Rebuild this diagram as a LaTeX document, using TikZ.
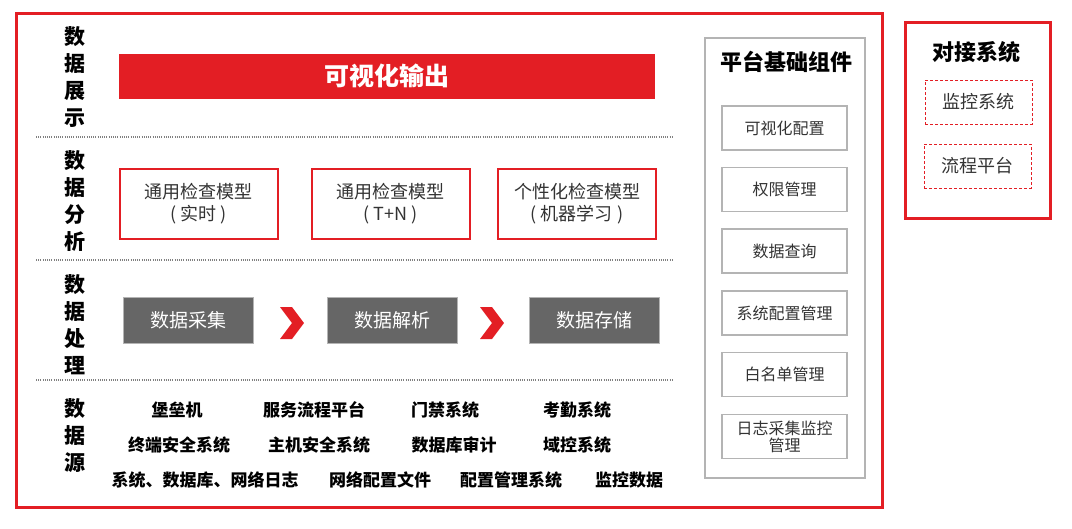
\documentclass[tikz,border=0pt]{standalone}
\usepackage{fontspec}
\setmainfont{Noto Sans CJK SC}
\definecolor{cred}{HTML}{E31E24}
\definecolor{cgray}{HTML}{666666}
\definecolor{lgray}{HTML}{B4B4B4}
\definecolor{tgray}{HTML}{333333}
\begin{document}
\begin{tikzpicture}[x=1pt,y=-1pt,
  rowlabel/.style={font=\fontsize{21}{27}\selectfont\bfseries, align=center, inner sep=0pt},
  redbar/.style={fill=cred, draw=none, minimum width=536pt, minimum height=45pt, font=\fontsize{25}{28}\selectfont\bfseries, text=white},
  anabox/.style={draw=cred, line width=2pt, fill=white, minimum width=158pt, minimum height=70pt, align=center, font=\fontsize{18}{22}\selectfont, text=tgray},
  procbox/.style={fill=cgray, draw=lgray, line width=0.6pt, minimum width=130pt, minimum height=46pt, font=\fontsize{19}{22}\selectfont, text=white},
  srctext/.style={font=\fontsize{17}{20}\selectfont\bfseries, inner sep=0pt},
  compbox/.style={draw=lgray, line width=1.2pt, minimum width=125pt, minimum height=44pt, align=center, font=\fontsize{16}{18}\selectfont, text=tgray},
  dashbox/.style={draw=cred, dash pattern=on 3pt off 2pt, line width=1pt, minimum width=107pt, minimum height=44pt, font=\fontsize{18}{20}\selectfont, text=tgray},
  sep/.style={draw=gray, dash pattern=on 1pt off 1.2pt, line width=1.2pt},
  chev/.style={fill=cred, draw=none}
]
\useasboundingbox (0,0) rectangle (1072,528);
% outer frames
\draw[cred, line width=3pt] (16,13) rectangle (882,507);
\draw[cred, line width=3pt] (905,22) rectangle (1050,218);
\draw[lgray, line width=1.2pt] (705,38) rectangle (865,478);
% separators
\coordinate (s1a) at (36,137); \coordinate (s1b) at (674,137);
\coordinate (s2a) at (36,260); \coordinate (s2b) at (674,260);
\coordinate (s3a) at (36,380); \coordinate (s3b) at (674,380);
\draw[sep] (s1a) -- (s1b);
\draw[sep] (s2a) -- (s2b);
\draw[sep] (s3a) -- (s3b);
% row labels
\node[rowlabel] (l1) at (75,77) {数\\据\\展\\示};
\node[rowlabel] (l2) at (75,201) {数\\据\\分\\析};
\node[rowlabel] (l3) at (75,325) {数\\据\\处\\理};
\node[rowlabel] (l4) at (75,436) {数\\据\\源};
% display
\node[redbar] (vis) at (387,76) {可视化输出};
% analysis
\node[anabox] (a1) at (198.5,203.5) {通用检查模型\\( 实时 )};
\node[anabox] (a2) at (390.5,203.5) {通用检查模型\\( T+N )};
\node[anabox] (a3) at (577,203.5) {个性化检查模型\\( 机器学习 )};
% processing
\node[procbox] (p1) at (188,320) {数据采集};
\node[procbox] (p2) at (392,320) {数据解析};
\node[procbox] (p3) at (594,320) {数据存储};
\fill[chev] (280,307) -- (292,307) -- (304,323) -- (292,339) -- (280,339) -- (292,323) -- cycle;
\fill[chev] (480,307) -- (492,307) -- (504,323) -- (492,339) -- (480,339) -- (492,323) -- cycle;
% sources
\node[srctext] (d1) at (177,410) {堡垒机};
\node[srctext] (d2) at (314,410) {服务流程平台};
\node[srctext] (d3) at (445,410) {门禁系统};
\node[srctext] (d4) at (577,410) {考勤系统};
\node[srctext] (d5) at (179,445) {终端安全系统};
\node[srctext] (d6) at (319,445) {主机安全系统};
\node[srctext] (d7) at (454,445) {数据库审计};
\node[srctext] (d8) at (577,445) {域控系统};
\node[srctext] (d9) at (205,480) {系统、数据库、网络日志};
\node[srctext] (d10) at (380,480) {网络配置文件};
\node[srctext] (d11) at (511,480) {配置管理系统};
\node[srctext] (d12) at (629,480) {监控数据};
% platform components
\node[font=\fontsize{22}{24}\selectfont\bfseries] (pt) at (786,62) {平台基础组件};
\node[compbox] (c1) at (784.5,128) {可视化配置};
\node[compbox] (c2) at (784.5,189.5) {权限管理};
\node[compbox] (c3) at (784.5,251) {数据查询};
\node[compbox] (c4) at (784.5,313) {系统配置管理};
\node[compbox] (c5) at (784.5,374.5) {白名单管理};
\node[compbox, font=\fontsize{16}{17}\selectfont] (c6) at (784.5,436.5) {日志采集监控\\管理};
% interfacing systems
\node[font=\fontsize{22}{24}\selectfont\bfseries] (jt) at (976,52) {对接系统};
\node[dashbox] (j1) at (978.5,102) {监控系统};
\node[dashbox] (j2) at (977.5,166) {流程平台};
\end{tikzpicture}
\end{document}
